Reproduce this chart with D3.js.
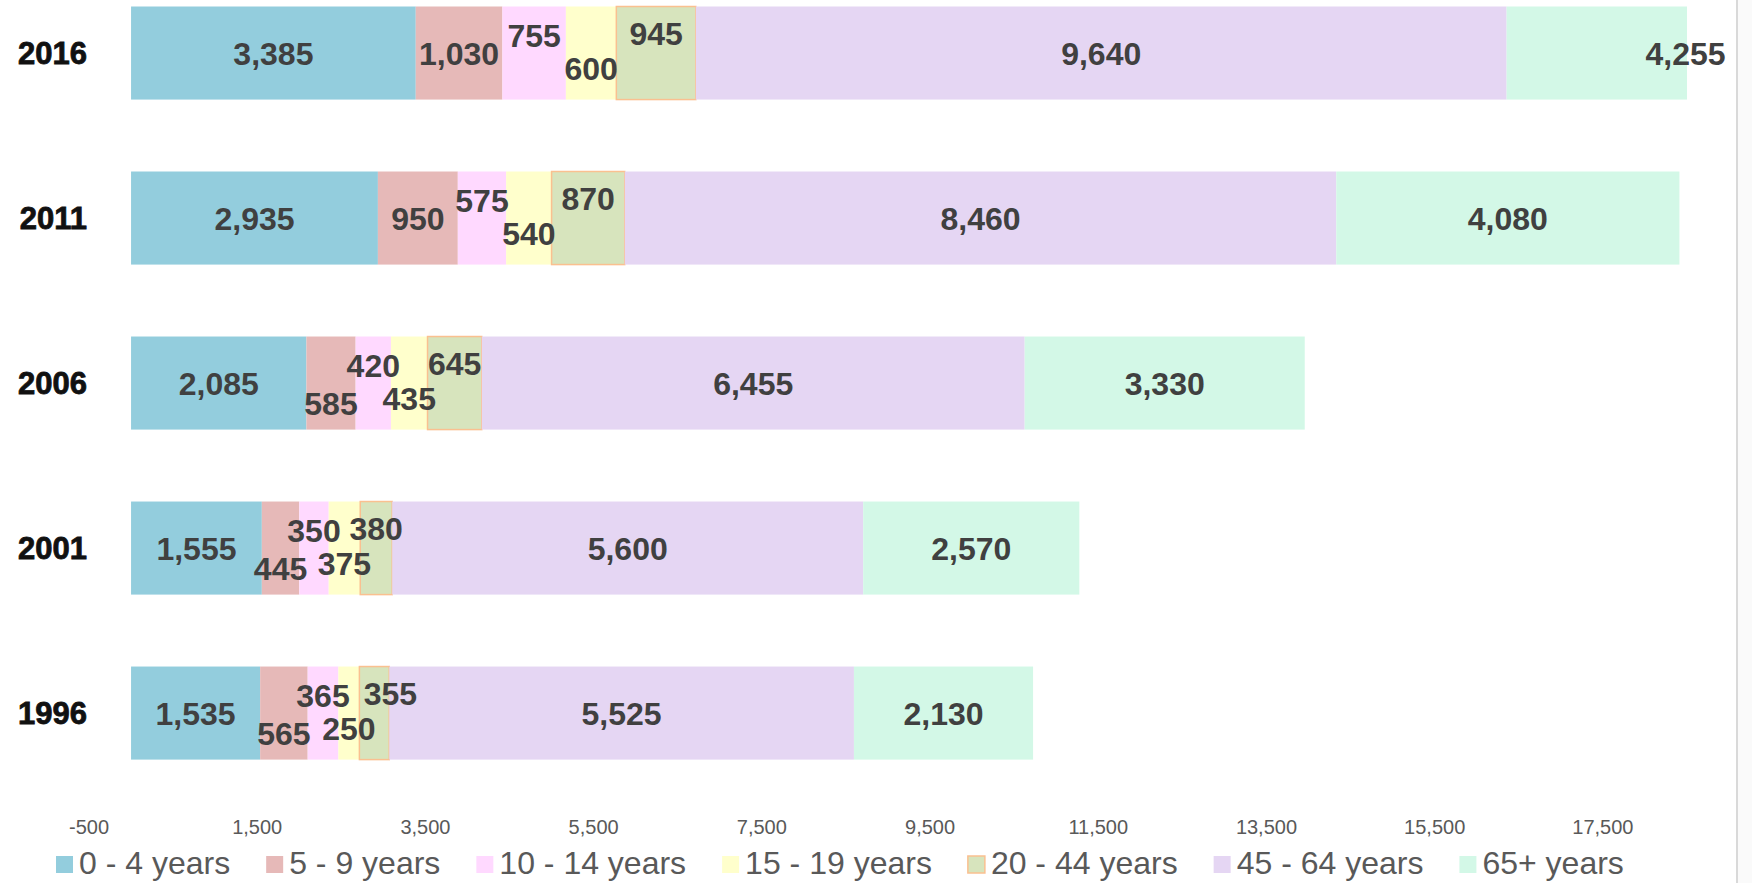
<!DOCTYPE html>
<html>
<head>
<meta charset="utf-8">
<script src="https://cdn.jsdelivr.net/npm/d3@7"></script>
<style>
  html, body { margin: 0; padding: 0; background: #fff; }
  svg { display: block; }
</style>
</head>
<body>
<div id="chart"></div>
<script>
// population by age group, per census year
const years = ['2016', '2011', '2006', '2001', '1996'];
const ageGroups = ['0 - 4 years', '5 - 9 years', '10 - 14 years', '15 - 19 years', '20 - 44 years', '45 - 64 years', '65+ years'];
const age0to4 = [3385, 2935, 2085, 1555, 1535];
const age5to9 = [1030, 950, 585, 445, 565];
const age10to14 = [755, 575, 420, 350, 365];
const age15to19 = [600, 540, 435, 375, 250];
const age20to44 = [945, 870, 645, 380, 355];
const age45to64 = [9640, 8460, 6455, 5600, 5525];
const age65plus = [4255, 4080, 3330, 2570, 2130];
const xTicks = [-500, 1500, 3500, 5500, 7500, 9500, 11500, 13500, 15500, 17500];

const series = [age0to4, age5to9, age10to14, age15to19, age20to44, age45to64, age65plus];
const colors = ['#93cddd', '#e6b9b8', '#ffd9ff', '#ffffcc', '#d7e4bd', '#e5d6f3', '#d3f8e7'];

const width = 1752, height = 883;
const fmt = d3.formatLocale({ decimal: '.', thousands: ',', grouping: [3], currency: ['$', ''], minus: '-' }).format(',');
const table = years.map((y, i) => {
  const row = { year: y };
  ageGroups.forEach((g, k) => row[g] = series[k][i]);
  return row;
});

const svg = d3.select('#chart').append('svg').attr('width', width).attr('height', height);

const x = d3.scaleLinear().domain([-500, 18500]).range([89, 1687]);
const y = d3.scaleBand().domain(years).range([6.5, 759.6]).paddingInner(0.436).paddingOuter(0);
const color = d3.scaleOrdinal().domain(ageGroups).range(colors);

// right border strip
svg.append('rect').attr('x', 1738).attr('y', 0).attr('width', width - 1738).attr('height', height).attr('fill', '#fafafa');
svg.append('line').attr('x1', 1737).attr('x2', 1737).attr('y1', 0).attr('y2', height)
  .attr('stroke', '#d9d9d9').attr('stroke-width', 2);

svg.append('clipPath').attr('id', 'plot').append('rect')
  .attr('x', x(-500)).attr('y', 0).attr('width', x(18500) - x(-500)).attr('height', height);

const stacked = d3.stack().keys(ageGroups)(table);

const layers = svg.append('g').attr('clip-path', 'url(#plot)')
  .selectAll('g').data(stacked).enter().append('g')
  .attr('fill', d => color(d.key));

layers.selectAll('rect').data(d => d.map(p => Object.assign(p, { key: d.key }))).enter().append('rect')
  .attr('x', d => x(d[0])).attr('y', d => y(d.data.year))
  .attr('width', d => x(d[1]) - x(d[0])).attr('height', y.bandwidth())
  .attr('stroke', d => d.key === '20 - 44 years' ? '#fac090' : 'none')
  .attr('stroke-width', 1.5);

// data labels, small middle segments nudged up / down
const nudge = (k, v) => {
  if (k === 1) return v < 700 ? 20 : 0;
  if (k === 2) return -18;
  if (k === 3) return 15;
  if (k === 4) return -20;
  return 0;
};

const labelGroups = stacked.map((layer, k) =>
  svg.append('g').selectAll('text').data(layer).enter().append('text')
    .attr('x', d => x((d[0] + d[1]) / 2))
    .attr('y', d => y(d.data.year) + y.bandwidth() / 2 + 1 + nudge(k, d[1] - d[0]))
    .attr('text-anchor', 'middle').attr('dominant-baseline', 'central')
    .style('font-family', '"Liberation Sans", Arial, sans-serif')
    .style('font-weight', 'bold').style('font-size', '32px').attr('fill', '#404040')
    .text(d => fmt(d[1] - d[0])));

// push the upper 20-44 label right when it runs into the upper 10-14 label
const upperLeft = labelGroups[2].nodes(), upperRight = labelGroups[4].nodes();
upperRight.forEach((node, i) => {
  const a = upperLeft[i].getBBox(), b = node.getBBox();
  if (b.x - (a.x + a.width) < 4) d3.select(node).attr('x', +node.getAttribute('x') + 16);
});

// category axis
svg.append('g').selectAll('text').data(years).enter().append('text')
  .attr('x', 87).attr('y', d => y(d) + y.bandwidth() / 2)
  .attr('text-anchor', 'end').attr('dominant-baseline', 'central')
  .style('font-family', '"Liberation Sans", Arial, sans-serif')
  .style('font-weight', 'bold').style('font-size', '31px')
  .attr('fill', '#111').attr('stroke', '#111').attr('stroke-width', 0.8)
  .text(d => d);

// value axis labels
svg.append('g').selectAll('text').data(xTicks).enter().append('text')
  .attr('x', d => x(d)).attr('y', 827)
  .attr('text-anchor', 'middle').attr('dominant-baseline', 'central')
  .style('font-family', '"Liberation Sans", Arial, sans-serif')
  .style('font-size', '20px').attr('fill', '#595959')
  .text(d => fmt(d));

// legend
const legend = svg.append('g');
let lx = 56;
ageGroups.forEach((g, k) => {
  legend.append('rect').attr('x', lx).attr('y', 856).attr('width', 17).attr('height', 17)
    .attr('fill', colors[k])
    .attr('stroke', g === '20 - 44 years' ? '#fac090' : 'none').attr('stroke-width', 1.5);
  const t = legend.append('text').attr('x', lx + 23).attr('y', 863)
    .attr('dominant-baseline', 'central')
    .style('font-family', '"Liberation Sans", Arial, sans-serif')
    .style('font-size', '32px').attr('fill', '#595959')
    .text(g);
  lx += 23 + t.node().getComputedTextLength() + 36;
});
</script>
</body>
</html>
